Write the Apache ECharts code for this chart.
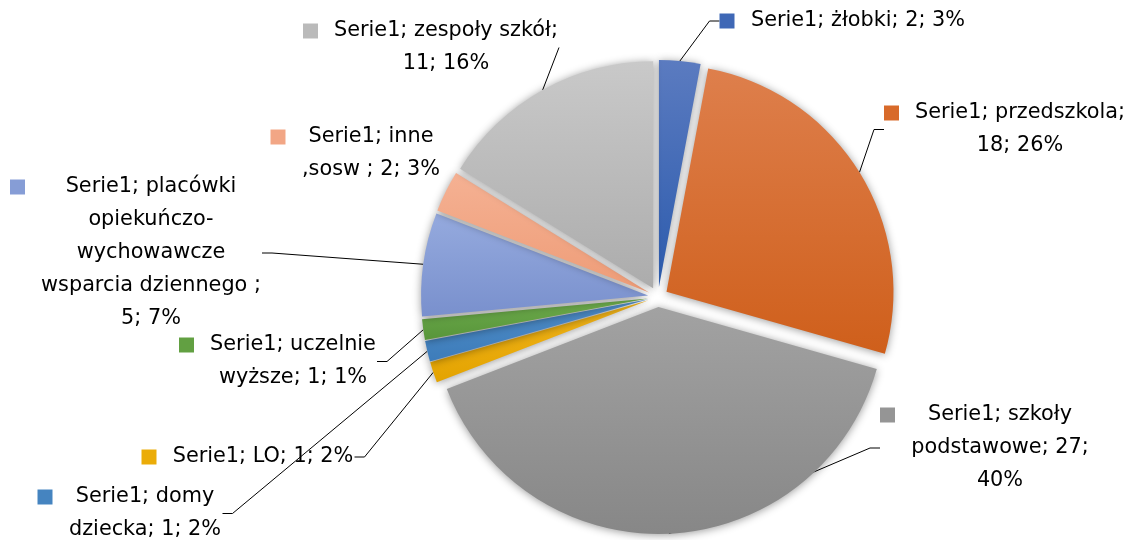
<!DOCTYPE html>
<html>
<head>
<meta charset="utf-8">
<script src="https://cdn.jsdelivr.net/npm/echarts@6/dist/echarts.min.js"></script>
<style>
  html, body { margin: 0; background: #fff; }
  #main { width: 1132px; height: 540px; }
</style>
</head>
<body>
<div id="main"></div>
<script>
  // dane
  var seriesName = 'Serie1';
  var categories = ['żłobki', 'przedszkola', 'szkoły\npodstawowe', 'LO', 'domy\ndziecka',
    'uczelnie\nwyższe', 'placówki\nopiekuńczo-\nwychowawcze\nwsparcia dziennego ', 'inne\n,sosw ', 'zespoły szkół'];
  var values = [2, 18, 27, 1, 1, 1, 5, 2, 11];
  var percents = [3, 26, 40, 2, 2, 1, 7, 3, 16];
  // gdzie łamać etykietę: po nazwie albo po wartości
  var breakAfter = ['', 'name', 'value', '', '', '', 'name', '', 'name'];

  // kolory (góra / dół gradientu)
  var colorTop = ['#5b7bc0', '#de7f4c', '#a2a2a2', '#f2b51c', '#4f8dc8', '#6dab4c', '#95aade', '#f5b193', '#c9c9c9'];
  var colorBottom = ['#2c5bad', '#cf5f1b', '#878787', '#e3a300', '#3d7cba', '#58953a', '#7990cd', '#ee9c77', '#acacac'];
  var markerColor = ['#3f68b6', '#d86a2a', '#959595', '#ebac08', '#4584c0', '#62a042', '#869dd6', '#f2a685', '#bababa'];

  // położenie etykiet: środek kolumny tekstu i środek pierwszej linii
  var labelX = [858, 1020, 1000, 263, 145, 293, 151, 371, 446];
  var labelY = [21, 113, 415, 457, 497, 345, 187, 137, 31];

  var FONT = '"DejaVu Sans"';
  var FS = 20.8;
  var LH = 33;
  var CENTER = [658, 297];
  var R = 227;
  var OFFSET = 10;

  var ctx = document.createElement('canvas').getContext('2d');
  ctx.font = FS + 'px ' + FONT;

  function labelLines(i) {
    var s;
    if (breakAfter[i] === 'name') {
      s = seriesName + '; ' + categories[i] + ';\n' + values[i] + '; ' + percents[i] + '%';
    } else if (breakAfter[i] === 'value') {
      s = seriesName + '; ' + categories[i] + '; ' + values[i] + ';\n' + percents[i] + '%';
    } else {
      s = seriesName + '; ' + categories[i] + '; ' + values[i] + '; ' + percents[i] + '%';
    }
    return s.split('\n');
  }

  var widths = [];
  var sliceData = [];
  var labelData = [];
  values.forEach(function (v, i) {
    var name = categories[i].replace(/\n/g, ' ');
    var lines = labelLines(i);
    var w = 0;
    lines.forEach(function (l) { w = Math.max(w, ctx.measureText(l).width); });
    w = Math.ceil(w) + 2;
    widths.push(w);
    var fmt = lines.map(function (l, k) {
      return (k === 0 ? '{m|}{g|}' : '{b|}') + '{t|' + l + '}';
    }).join('\n');

    sliceData.push({
      name: name,
      value: v,
      selected: true,
      itemStyle: {
        color: new echarts.graphic.LinearGradient(0, 0, 0, 1, [
          { offset: 0, color: colorTop[i] },
          { offset: 1, color: colorBottom[i] }
        ])
      }
    });

    labelData.push({
      name: name,
      value: v,
      label: {
        formatter: fmt,
        rich: {
          m: { width: 15, height: 15, backgroundColor: markerColor[i], lineHeight: LH },
          g: { width: 15, lineHeight: LH },
          b: { width: 30, lineHeight: LH },
          t: { width: w, align: 'center', lineHeight: LH, fontSize: FS, fontFamily: FONT, color: '#000' }
        }
      },
      labelLine: { show: i !== 7 }
    });
  });

  var myChart = echarts.init(document.getElementById('main'));
  myChart.setOption({
    animation: false,
    backgroundColor: '#fff',
    series: [{
      // wycinki (rozsunięte)
      name: seriesName,
      type: 'pie',
      center: CENTER,
      radius: R,
      startAngle: 90,
      clockwise: true,
      selectedMode: 'multiple',
      selectedOffset: OFFSET,
      emphasis: { disabled: true },
      silent: true,
      itemStyle: {
        shadowBlur: 8,
        shadowColor: 'rgba(0,0,0,0.4)',
        shadowOffsetY: 1
      },
      label: { show: false },
      labelLine: { show: false },
      data: sliceData
    }, {
      // etykiety z liniami odniesienia
      name: seriesName,
      type: 'pie',
      center: CENTER,
      radius: R + OFFSET,
      startAngle: 90,
      clockwise: true,
      selectedMode: false,
      silent: true,
      emphasis: { disabled: true },
      avoidLabelOverlap: false,
      itemStyle: { color: 'rgba(0,0,0,0)' },
      label: {
        show: true,
        position: 'outside',
        fontSize: FS,
        fontFamily: FONT,
        color: '#000'
      },
      labelLine: {
        show: true,
        length: 10,
        length2: 10,
        smooth: false,
        lineStyle: { color: '#000', width: 1 }
      },
      labelLayout: function (p) {
        var i = p.dataIndex;
        return {
          x: labelX[i] - widths[i] / 2 - 30,
          y: labelY[i] - LH / 2,
          align: 'left',
          verticalAlign: 'top'
        };
      },
      data: labelData
    }]
  });
</script>
</body>
</html>
